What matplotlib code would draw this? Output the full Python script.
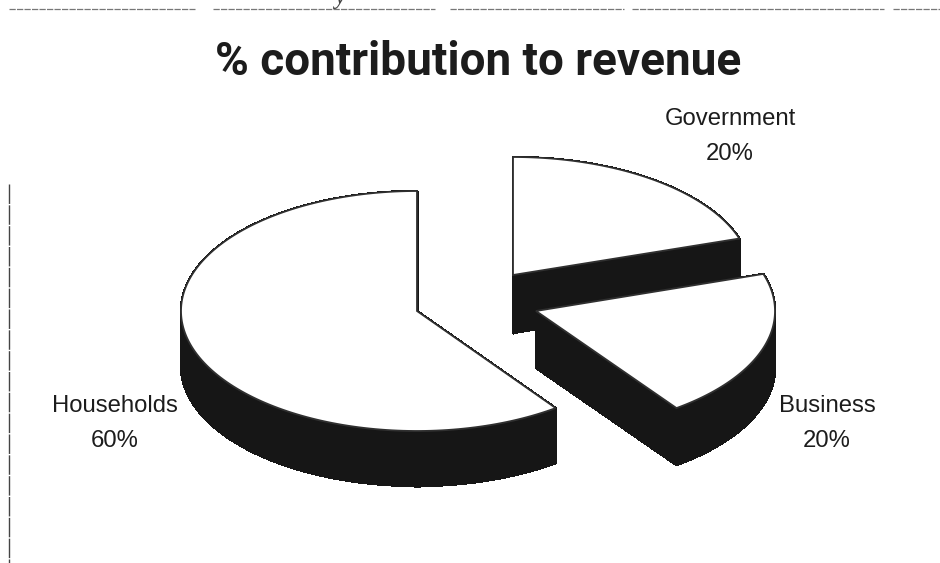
import numpy as np
import matplotlib
matplotlib.use("Agg")
import matplotlib.pyplot as plt
from matplotlib.collections import PolyCollection
from matplotlib.patches import Polygon

# Revenue contribution by source, in per cent, clockwise from twelve o'clock
sources = ["Government", "Business", "Households"]
shares = [20, 20, 60]

# Where each exploded slice sits on the 940x563 canvas
apex = {"Government": (513, 275), "Business": (536, 311), "Households": (417, 311)}
radius_x = {"Government": 238, "Business": 239, "Households": 236}
radius_y = {"Government": 118, "Business": 120, "Households": 120}
depth = {"Government": 58, "Business": 57, "Households": 55}
label_pos = {"Government": (730, 125), "Business": (827, 412), "Households": (115, 412)}
LINE_GAP = 35

fig = plt.figure(figsize=(9.4, 5.63), dpi=100, facecolor="white")
ax = fig.add_axes([0, 0, 1, 1])
ax.set_xlim(0, 940)
ax.set_ylim(563, 0)
ax.axis("off")

INK = "#161616"
edges = np.cumsum([0] + shares) / sum(shares) * 2 * np.pi


def outline(name, start, stop):
    """Boundary of a pie slice in canvas coordinates, apex first."""
    cx, cy = apex[name]
    t = np.linspace(start, stop, 160)
    arc = np.column_stack([cx + radius_x[name] * np.sin(t), cy - radius_y[name] * np.cos(t)])
    return np.vstack([[cx, cy], arc])


for name in ["Households", "Government", "Business"]:
    i = sources.index(name)
    top = outline(name, edges[i], edges[i + 1])
    # The slice wall: every boundary segment swept straight down by the depth
    closed = np.vstack([top, top[:1]])
    drop = np.array([0, depth[name]])
    quads = [[closed[k], closed[k + 1], closed[k + 1] + drop, closed[k] + drop]
             for k in range(len(closed) - 1)]
    ax.add_collection(PolyCollection(quads, facecolors=INK, edgecolors=INK, linewidths=1.0,
                                     antialiaseds=False, zorder=2 + i))
    ax.add_patch(Polygon(top, closed=True, facecolor="white", edgecolor="#303030", linewidth=1.3,
                         joinstyle="miter", zorder=2 + i))

ax.text(478, 75, "% contribution to revenue", ha="center", va="baseline", color="#1c1c1c",
        family="Roboto", fontweight="bold", fontsize=33)

for name, share in zip(sources, shares):
    x, y = label_pos[name]
    ax.text(x, y, name, ha="center", va="baseline", color="#1c1c1c",
            family="Liberation Sans", fontsize=17.2)
    ax.text(x, y + LINE_GAP, f"{share}%", ha="center", va="baseline", color="#1c1c1c",
            family="Liberation Sans", fontsize=17.2)

# Page furniture: broken rule along the top and a darker rule down the left edge
for x0, x1 in [(9, 195), (213, 435), (450, 624), (632, 884), (893, 940)]:
    ax.plot([x0, x1], [9, 9], color="#777777", lw=0.9, ls=(0, (5, 1)), zorder=1)
ax.plot([8.5, 8.5], [184, 563], color="#444444", lw=1.0, ls=(0, (14, 1)), zorder=1)
ax.text(340, 4, "y", ha="center", va="baseline", style="italic", family="Liberation Serif",
        fontsize=18, color="#444444", clip_on=True)

fig.savefig("out.png", dpi=100, facecolor="white")
